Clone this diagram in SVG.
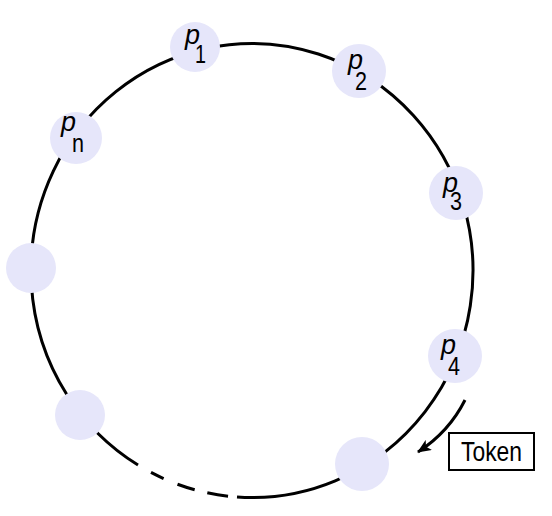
<svg xmlns="http://www.w3.org/2000/svg" width="552" height="516" viewBox="0 0 552 516">
<style>
.ring{fill:none;stroke:#000;stroke-width:3}
.node{fill:#e6e6fa}
.p{font-family:"Liberation Sans",Arial,sans-serif;font-style:italic;font-size:27px;fill:#000}
.s{font-family:"Liberation Sans",Arial,sans-serif;font-size:25px;fill:#000}
.tk{font-family:"Liberation Sans",Arial,sans-serif;font-size:27px;fill:#000}
</style>
<defs>
<marker id="ah" markerWidth="14" markerHeight="12" refX="13" refY="6" orient="auto" markerUnits="userSpaceOnUse">
<path d="M0,0 L14,6 L0,12 L3.5,6 Z" fill="#000"/>
</marker>
</defs>
<g id="connectors">
<path class="ring" d="M138,465 A221,227 0 1 1 237,497"/>
<path class="ring" d="M138,465 A221,227 0 0 0 237,497" stroke-dasharray="0 15 14 15 18 13 21 30"/>
<path d="M465,400 Q449,432 418,452" fill="none" stroke="#000" stroke-width="3" marker-end="url(#ah)"/>
</g>
<g id="p1"><circle class="node" cx="195" cy="47" r="25"/><text class="p" x="185" y="44">p</text><text class="s" x="195" y="63" textLength="11" lengthAdjust="spacingAndGlyphs">1</text></g>
<g id="p2"><circle class="node" cx="359" cy="71" r="27"/><text class="p" x="348" y="69">p</text><text class="s" x="355" y="90" textLength="12" lengthAdjust="spacingAndGlyphs">2</text></g>
<g id="p3"><circle class="node" cx="456" cy="193" r="27"/><text class="p" x="443" y="192">p</text><text class="s" x="450" y="210" textLength="12" lengthAdjust="spacingAndGlyphs">3</text></g>
<g id="p4"><circle class="node" cx="455" cy="356" r="27"/><text class="p" x="441" y="354">p</text><text class="s" x="448" y="375" textLength="12" lengthAdjust="spacingAndGlyphs">4</text></g>
<g id="pn"><circle class="node" cx="76" cy="138" r="26"/><text class="p" x="61" y="131">p</text><text class="s" x="72" y="152" textLength="12" lengthAdjust="spacingAndGlyphs">n</text></g>
<g id="nodeLeft"><circle class="node" cx="31" cy="268" r="25"/></g>
<g id="nodeBottomLeft"><circle class="node" cx="80" cy="415" r="25"/></g>
<g id="nodeBottomRight"><circle class="node" cx="362" cy="464" r="27"/></g>
<g id="token"><rect x="449" y="433" width="85" height="37" fill="#fff" stroke="#000" stroke-width="2"/><text class="tk" x="491.5" y="461" text-anchor="middle" textLength="61" lengthAdjust="spacingAndGlyphs">Token</text></g>
</svg>
